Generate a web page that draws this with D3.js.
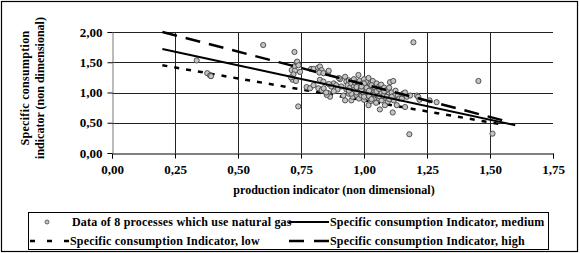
<!DOCTYPE html>
<html>
<head>
<meta charset="utf-8">
<script src="https://cdn.jsdelivr.net/npm/d3@7"></script>
<style>
  body { margin: 0; background: #fff; }
  svg { display: block; font-family: "Liberation Serif", "Times New Roman", serif; font-weight: bold; }
  svg text { font-family: "Liberation Serif", "Times New Roman", serif; font-weight: bold; }
</style>
</head>
<body>
<div id="chart"></div>
<script>
// Data
const xTicks = [0, 0.25, 0.5, 0.75, 1.0, 1.25, 1.5, 1.75];
const yTicks = [0, 0.5, 1.0, 1.5, 2.0];

const processPoints = [
    [0.336, 1.53], [0.378, 1.32], [0.389, 1.28], [0.393, 1.27], [0.60, 1.785],
    [0.724, 1.67], [0.733, 1.50], [0.735, 1.51], [0.722, 1.43], [0.713, 1.37],
    [0.726, 1.36], [0.746, 1.34], [0.717, 1.21], [0.730, 1.19], [0.739, 0.77],
    [0.72, 1.30], [0.74, 1.45], [0.71, 1.25],
    [0.772, 1.09], [0.786, 1.07], [0.79, 1.39], [0.80, 1.39], [0.818, 1.41],
    [0.825, 1.43], [0.832, 1.37], [0.823, 1.33], [0.839, 1.32], [0.858, 1.34],
    [0.86, 1.36], [0.825, 1.21], [0.839, 1.18], [0.819, 1.07], [0.832, 1.04],
    [0.84, 1.07], [0.858, 0.99], [0.865, 0.93], [0.852, 0.96], [0.85, 1.00],
    [0.88, 1.15], [0.87, 1.10], [0.89, 1.12], [0.905, 1.22], [0.90, 1.24],
    [0.895, 1.05], [0.91, 1.10], [0.80, 1.12], [0.86, 1.14], [0.88, 1.02],
    [0.918, 0.95], [0.925, 0.87], [0.925, 1.26], [0.93, 1.18], [0.93, 1.05],
    [0.935, 1.12], [0.94, 0.98], [0.94, 1.20], [0.945, 1.08], [0.95, 0.87],
    [0.95, 1.15], [0.952, 1.02], [0.955, 0.93], [0.96, 1.10], [0.96, 1.22],
    [0.962, 1.00], [0.965, 1.16], [0.97, 0.96], [0.97, 1.06], [0.975, 1.12],
    [0.978, 1.29], [0.98, 0.90], [0.98, 1.02], [0.982, 1.19], [0.985, 1.08],
    [0.99, 0.95], [0.99, 1.14], [0.995, 1.00], [1.0, 1.06], [1.0, 1.22],
    [1.0, 0.88], [1.005, 1.11], [1.01, 0.97], [1.01, 1.17], [1.012, 1.03],
    [1.015, 0.92], [1.018, 1.24], [1.018, 0.79], [1.02, 1.09], [1.022, 1.00],
    [1.025, 1.14], [1.028, 0.86], [1.03, 1.05], [1.03, 0.95], [1.035, 1.19],
    [1.038, 1.10], [1.04, 0.90], [1.04, 1.01], [1.045, 1.07], [1.048, 0.83],
    [1.05, 1.15], [1.05, 0.96], [1.055, 1.04], [1.058, 0.91], [1.06, 1.10],
    [1.063, 0.72], [1.065, 0.99], [1.068, 1.13], [1.07, 0.87], [1.072, 1.05],
    [1.075, 0.94], [1.08, 1.08], [1.083, 0.79], [1.085, 1.00], [1.088, 0.90],
    [1.09, 1.04], [1.095, 0.85], [1.098, 0.97], [1.10, 1.08], [1.103, 1.17],
    [1.105, 0.92], [1.11, 1.00], [1.114, 0.67], [1.116, 1.19], [1.118, 0.87],
    [1.12, 0.95], [1.125, 1.03], [1.13, 0.79], [1.135, 0.95], [1.14, 0.90],
    [1.15, 0.90], [1.155, 0.98], [1.163, 1.00], [1.163, 0.76], [1.17, 0.93],
    [1.183, 0.95], [1.18, 0.31], [1.196, 1.83], [1.21, 0.95], [1.215, 0.93],
    [1.22, 0.88], [1.26, 0.87], [1.288, 0.84], [1.454, 1.19], [1.51, 0.32],
    [0.96, 1.04], [0.97, 1.00], [0.98, 1.12], [0.99, 1.05], [1.0, 0.98],
    [1.01, 1.08], [1.02, 1.03], [1.03, 1.12], [1.04, 0.97], [1.05, 1.02],
    [1.06, 0.94], [1.07, 1.00], [1.08, 0.96], [1.09, 0.93], [1.0, 1.15],
    [0.95, 0.98], [0.97, 1.09], [1.02, 0.94], [1.06, 1.06], [0.94, 1.03],
    [1.0, 0.93], [1.03, 0.89], [1.08, 1.02], [1.1, 0.89], [0.99, 1.10], [1.11, 0.93]
];

const lineMedium = [[0.2, 1.72], [1.6, 0.46]];
const lineLow = [[0.2, 1.45], [1.55, 0.47]];
const lineHigh = [[0.2, 2.0], [1.57, 0.52]];

const legendLabels = [
    "Data of 8 processes which use natural gas",
    "Specific consumption Indicator, medium",
    "Specific consumption Indicator, low",
    "Specific consumption Indicator, high"
];

const width = 580;
const height = 253;
const marginTop = 32;
const marginLeft = 112;
const plotRight = 553;
const plotBottom = 153;
const fmt = d => d3.format(".2f")(d).replace(".", ",");

const svg = d3.select("#chart")
    .append("svg")
    .attr("width", width)
    .attr("height", height);

// outer frame
svg.append("rect")
    .attr("x", 1.5).attr("y", 1.5)
    .attr("width", width - 4).attr("height", height - 3)
    .attr("fill", "none").attr("stroke", "#000").attr("stroke-width", 1.2);

const x = d3.scaleLinear().domain([0, 1.75]).range([marginLeft, plotRight]);
const y = d3.scaleLinear().domain([0, 2]).range([plotBottom, marginTop]);

// grid
svg.append("g")
    .selectAll("line")
    .data(yTicks.slice(1))
    .join("line")
    .attr("x1", marginLeft).attr("x2", plotRight)
    .attr("y1", d => Math.round(y(d)) + 0.5).attr("y2", d => Math.round(y(d)) + 0.5)
    .attr("stroke", "#222");

svg.append("g")
    .selectAll("line")
    .data(xTicks.slice(1, -1))
    .join("line")
    .attr("x1", d => Math.round(x(d)) + 0.5).attr("x2", d => Math.round(x(d)) + 0.5)
    .attr("y1", marginTop).attr("y2", plotBottom)
    .attr("stroke", "#222");

// axes
const xAxis = svg.append("g")
    .attr("transform", `translate(0,${plotBottom + 0.5})`)
    .call(d3.axisBottom(x).tickValues(xTicks).tickSize(5).tickPadding(6).tickFormat(fmt));
xAxis.attr("font-family", null).attr("font-size", 13);
xAxis.select(".domain").attr("stroke", "#000");
xAxis.selectAll("text").attr("fill", "#000");

const yAxis = svg.append("g")
    .attr("transform", `translate(${marginLeft + 0.5},0)`)
    .call(d3.axisLeft(y).tickValues(yTicks).tickSize(5).tickPadding(5).tickFormat(fmt));
yAxis.attr("font-family", null).attr("font-size", 13);
yAxis.select(".domain").attr("stroke", "#777");
yAxis.selectAll("text").attr("fill", "#000");

// regression lines
const line = d3.line().x(d => x(d[0])).y(d => y(d[1]));

svg.append("path").datum(lineLow)
    .attr("d", line).attr("fill", "none")
    .attr("stroke", "#000").attr("stroke-width", 2.5)
    .attr("stroke-dasharray", "5,7");

// points
svg.append("g")
    .selectAll("circle")
    .data(processPoints)
    .join("circle")
    .attr("cx", d => x(d[0]))
    .attr("cy", d => y(d[1]))
    .attr("r", 2.6)
    .attr("fill", "#c4c4c4")
    .attr("stroke", "#444")
    .attr("stroke-width", 0.9);

svg.append("path").datum(lineMedium)
    .attr("d", line).attr("fill", "none")
    .attr("stroke", "#000").attr("stroke-width", 2);

svg.append("path").datum(lineHigh)
    .attr("d", line).attr("fill", "none")
    .attr("stroke", "#000").attr("stroke-width", 2.5)
    .attr("stroke-dasharray", "15,9");

// axis titles
svg.append("text")
    .attr("x", 334).attr("y", 194)
    .attr("text-anchor", "middle")
    .attr("font-size", 12)
    .text("production indicator (non dimensional)");

const yTitle = svg.append("text")
    .attr("transform", "translate(0,88) rotate(-90)")
    .attr("text-anchor", "middle")
    .attr("font-size", 12);
yTitle.append("tspan").attr("x", 0).attr("y", 29)
    .attr("letter-spacing", 0.3).text("Specific consumption");
yTitle.append("tspan").attr("x", 0).attr("y", 44).text("indicator (non dimensional)");

// legend
const legend = svg.append("g");
legend.append("rect")
    .attr("x", 28.5).attr("y", 212.5)
    .attr("width", 520).attr("height", 37)
    .attr("fill", "#fff").attr("stroke", "#000").attr("stroke-width", 1);

const row1 = 222;
const row2 = 241;
legend.append("circle")
    .attr("cx", 47).attr("cy", row1)
    .attr("r", 2).attr("fill", "#c4c4c4").attr("stroke", "#444").attr("stroke-width", 0.8);
legend.append("line")
    .attr("x1", 289).attr("x2", 329).attr("y1", row1).attr("y2", row1)
    .attr("stroke", "#000").attr("stroke-width", 2);
legend.append("line")
    .attr("x1", 30).attr("x2", 70).attr("y1", row2).attr("y2", row2)
    .attr("stroke", "#000").attr("stroke-width", 2.5).attr("stroke-dasharray", "5,12");
legend.append("line")
    .attr("x1", 289).attr("x2", 329).attr("y1", row2).attr("y2", row2)
    .attr("stroke", "#000").attr("stroke-width", 2.5).attr("stroke-dasharray", "15,10");

const legendPos = [[72, row1], [330, row1], [70, row2], [330, row2]];
legend.selectAll("text.lbl")
    .data(legendLabels)
    .join("text")
    .attr("class", "lbl")
    .attr("x", (d, i) => legendPos[i][0])
    .attr("y", (d, i) => legendPos[i][1])
    .attr("dy", "0.35em")
    .attr("font-size", 12)
    .attr("letter-spacing", 0.2)
    .text(d => d);
</script>
</body>
</html>
